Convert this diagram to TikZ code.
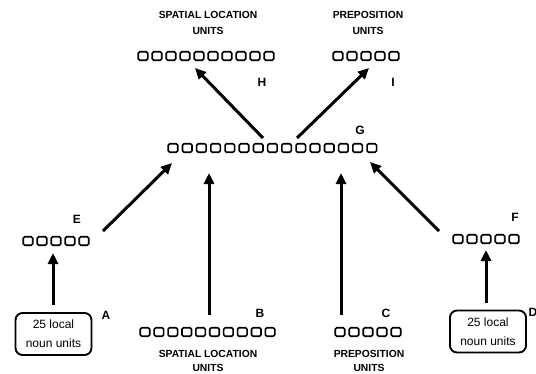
\documentclass[tikz,border=0pt]{standalone}
\usepackage{fontspec}
\setmainfont{Liberation Sans}
\usetikzlibrary{arrows.meta}
\tikzset{
  unitsq/.style={draw, line width=1.6pt, rounded corners=1.5pt, minimum width=9.5pt, minimum height=8.5pt, inner sep=0pt},
  rowbox/.style={inner sep=0pt, minimum height=9pt},
  lettr/.style={font=\bfseries\fontsize{12}{12}\selectfont, inner sep=0pt},
  captxt/.style={font=\bfseries\fontsize{10.3}{16}\selectfont, align=center, inner sep=0pt},
  nounbox/.style={draw, line width=1.9pt, rounded corners=7pt, minimum width=76pt, minimum height=42pt, inner sep=0pt, align=center, font=\fontsize{12}{19}\selectfont},
  conn/.style={line width=3pt, -{Triangle[length=11pt,width=10pt]}}
}
\newcommand\unitrow[5]{% name, first x, y, count, spacing
  \foreach \i in {1,...,#4} \node[unitsq] at ({#2+(\i-1)*#5}, #3) {};
  \node[rowbox, minimum width={(#4-1)*#5+10}] (#1) at ({#2+(#4-1)*#5/2}, #3) {};
}
\begin{document}
\begin{tikzpicture}[x=1pt,y=-1pt]
\useasboundingbox (0,0) rectangle (536,373);
% rows of units
\unitrow{H}{143}{56}{10}{14}
\unitrow{I}{338}{56}{5}{14}
\unitrow{G}{173}{148}{15}{14.2}
\unitrow{E}{28}{241}{5}{14}
\unitrow{F}{458}{239}{5}{14}
\unitrow{B}{145}{332}{10}{13.9}
\unitrow{C}{340}{332}{5}{14}
% captions
\node[captxt] (capH) at (208,23) {SPATIAL LOCATION\\UNITS};
\node[captxt] (capI) at (368,23) {PREPOSITION\\UNITS};
\node[captxt, font=\bfseries\fontsize{10.3}{14}\selectfont] (capB) at (208,361) {SPATIAL LOCATION\\UNITS};
\node[captxt, font=\bfseries\fontsize{10.3}{14}\selectfont] (capC) at (369,361) {PREPOSITION\\UNITS};
% noun boxes
\node[nounbox] (A) at (53.5,334) {25 local\\noun units};
\node[nounbox] (D) at (488,331.5) {25 local\\noun units};
% letters
\node[lettr] (lH) at (262,82) {H};
\node[lettr] (lI) at (393,82) {I};
\node[lettr] (lG) at (360,130) {G};
\node[lettr] (lE) at (77,219) {E};
\node[lettr] (lF) at (515,217) {F};
\node[lettr] (lA) at (106,315) {A};
\node[lettr] (lB) at (260,313) {B};
\node[lettr] (lC) at (386,313) {C};
\node[lettr] (lD) at (533,312) {D};
% connector ends
\coordinate (aT) at (53,305);   \coordinate (aH) at (53,253);
\coordinate (dT) at (486,303);  \coordinate (dH) at (486,250);
\coordinate (eT) at (103,231);  \coordinate (eH) at (172,163);
\coordinate (bT) at (209,315);  \coordinate (bH) at (209,173);
\coordinate (cT) at (341,315);  \coordinate (cH) at (341,173);
\coordinate (fT) at (439,231);  \coordinate (fH) at (370,162);
\coordinate (ghT) at (263,138); \coordinate (ghH) at (195,68);
\coordinate (giT) at (297,138); \coordinate (giH) at (369,68);
\draw[conn] (aT) -- (aH);
\draw[conn] (dT) -- (dH);
\draw[conn] (eT) -- (eH);
\draw[conn] (bT) -- (bH);
\draw[conn] (cT) -- (cH);
\draw[conn] (fT) -- (fH);
\draw[conn] (ghT) -- (ghH);
\draw[conn] (giT) -- (giH);
\end{tikzpicture}
\end{document}
